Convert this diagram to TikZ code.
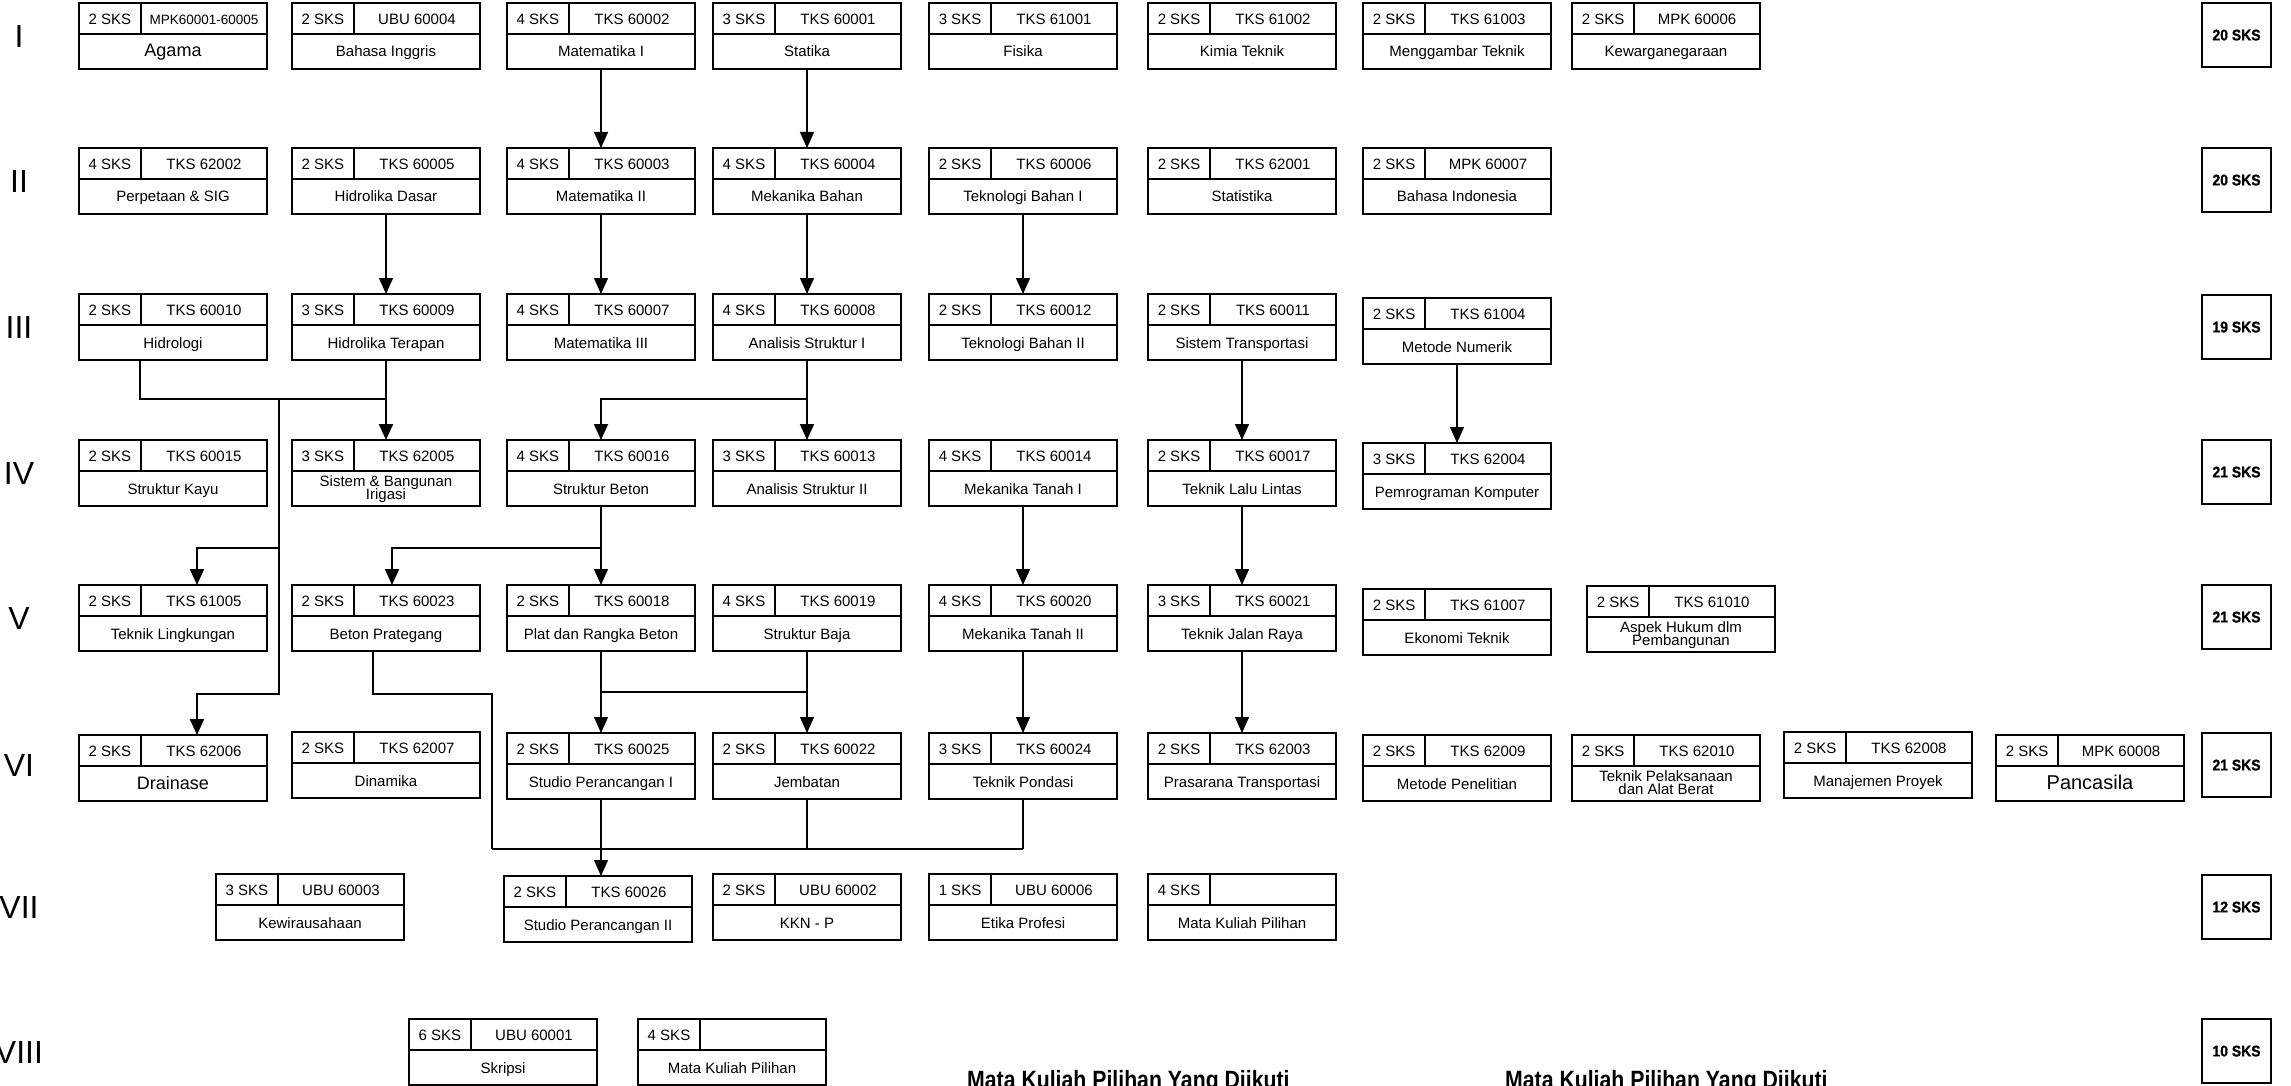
\documentclass[tikz,border=0pt]{standalone}
\usepackage{fontspec}
\setmainfont{Liberation Sans}
\newfontfamily\narrowb[FakeStretch=0.85]{Liberation Sans}
\newfontfamily\totf[FakeStretch=0.9,FakeBold=1]{Liberation Sans}
\usetikzlibrary{arrows.meta}
\tikzset{
  cbox/.style={draw, line width=1.4pt, rectangle, minimum width=188pt, minimum height=66pt, inner sep=0pt, outer sep=0pt, anchor=north west},
  bline/.style={line width=1.4pt},
  cell/.style={inner sep=0pt, anchor=base, font=\fontsize{15}{17}\selectfont},
  ttl/.style={inner sep=0pt, anchor=base, font=\fontsize{15}{17}\selectfont},
  tot/.style={draw, line width=1.4pt, minimum width=69pt, minimum height=64pt, inner sep=0pt, outer sep=0pt, anchor=north west, text depth=0pt, font=\totf\bfseries\fontsize{15.5}{17}\selectfont},
  rom/.style={inner sep=0pt, text depth=0pt, font=\fontsize{32}{34}\selectfont},
  thn/.style={line width=1.3pt},
  mid/.style={line width=1.8pt},
  thk/.style={line width=2.2pt},
  arr/.style={-{Triangle[length=16pt,width=14pt]}},
  btitle/.style={anchor=base west, inner sep=0pt, font=\narrowb\bfseries\fontsize{25}{27}\selectfont}
}
% #1 title options, #2 name, #3 x, #4 y (top), #5 sks, #6 code, #7 title
\newcommand\crs[7][]{%
  \node[cbox] (#2) at (#3,#4) {};
  \draw[bline] ([yshift=-31pt]#2.north west) -- ([yshift=-31pt]#2.north east);
  \draw[bline] ([xshift=62pt]#2.north west) -- ([xshift=62pt,yshift=-31pt]#2.north west);
  \node[cell] (#2s) at ([xshift=31pt,yshift=-21.5pt]#2.north west) {#5};
  \node[cell] (#2c) at ([xshift=125pt,yshift=-21.5pt]#2.north west) {#6};
  \node[ttl,#1] (#2t) at ([yshift=-54pt]#2.north) {#7};
}
\newcommand\ctwo[3]{%
  \node[ttl] (#1ta) at ([yshift=-46pt]#1.north) {#2};
  \node[ttl] (#1tb) at ([yshift=-59pt]#1.north) {#3};
}
\begin{document}
\begin{tikzpicture}[x=1pt,y=-1pt]
\fill[white] (0,0) rectangle (2291,1086);
\useasboundingbox (0,0) rectangle (2291,1086);

% semester numerals
\node[rom] (r1) at (19,36) {I};
\node[rom] (r2) at (19,181) {II};
\node[rom] (r3) at (19,327) {III};
\node[rom] (r4) at (19,473) {IV};
\node[rom] (r5) at (19,618) {V};
\node[rom] (r6) at (19,765) {VI};
\node[rom] (r7) at (19,907) {VII};
\node[rom] (r8) at (19,1052) {VIII};

% Row I
\crs[font=\fontsize{18}{20}\selectfont]{agama}{79}{3}{2 SKS}{\fontsize{13.5}{15}\selectfont MPK60001-60005}{Agama}
\crs{bing}{292}{3}{2 SKS}{UBU 60004}{Bahasa Inggris}
\crs{mat1}{507}{3}{4 SKS}{TKS 60002}{Matematika I}
\crs{statika}{713}{3}{3 SKS}{TKS 60001}{Statika}
\crs{fisika}{929}{3}{3 SKS}{TKS 61001}{Fisika}
\crs{kimia}{1148}{3}{2 SKS}{TKS 61002}{Kimia Teknik}
\crs{mgt}{1363}{3}{2 SKS}{TKS 61003}{Menggambar Teknik}
\crs{kwn}{1572}{3}{2 SKS}{MPK 60006}{Kewarganegaraan}

% Row II
\crs{perp}{79}{148}{4 SKS}{TKS 62002}{Perpetaan \& SIG}
\crs{hidd}{292}{148}{2 SKS}{TKS 60005}{Hidrolika Dasar}
\crs{mat2}{507}{148}{4 SKS}{TKS 60003}{Matematika II}
\crs{mekb}{713}{148}{4 SKS}{TKS 60004}{Mekanika Bahan}
\crs{tb1}{929}{148}{2 SKS}{TKS 60006}{Teknologi Bahan I}
\crs{stat}{1148}{148}{2 SKS}{TKS 62001}{Statistika}
\crs{bind}{1363}{148}{2 SKS}{MPK 60007}{Bahasa Indonesia}

% Row III
\crs{hidro}{79}{294}{2 SKS}{TKS 60010}{Hidrologi}
\crs{hidt}{292}{294}{3 SKS}{TKS 60009}{Hidrolika Terapan}
\crs{mat3}{507}{294}{4 SKS}{TKS 60007}{Matematika III}
\crs{as1}{713}{294}{4 SKS}{TKS 60008}{Analisis Struktur I}
\crs{tb2}{929}{294}{2 SKS}{TKS 60012}{Teknologi Bahan II}
\crs{sistr}{1148}{294}{2 SKS}{TKS 60011}{Sistem Transportasi}
\crs{metnum}{1363}{298}{2 SKS}{TKS 61004}{Metode Numerik}

% Row IV
\crs{kayu}{79}{440}{2 SKS}{TKS 60015}{Struktur Kayu}
\crs{irig}{292}{440}{3 SKS}{TKS 62005}{}
\ctwo{irig}{Sistem \& Bangunan}{Irigasi}
\crs{beton}{507}{440}{4 SKS}{TKS 60016}{Struktur Beton}
\crs{as2}{713}{440}{3 SKS}{TKS 60013}{Analisis Struktur II}
\crs{mt1}{929}{440}{4 SKS}{TKS 60014}{Mekanika Tanah I}
\crs{lalin}{1148}{440}{2 SKS}{TKS 60017}{Teknik Lalu Lintas}
\crs{pemkom}{1363}{443}{3 SKS}{TKS 62004}{Pemrograman Komputer}

% Row V
\crs{tling}{79}{585}{2 SKS}{TKS 61005}{Teknik Lingkungan}
\crs{prateg}{292}{585}{2 SKS}{TKS 60023}{Beton Prategang}
\crs{plat}{507}{585}{2 SKS}{TKS 60018}{Plat dan Rangka Beton}
\crs{baja}{713}{585}{4 SKS}{TKS 60019}{Struktur Baja}
\crs{mt2}{929}{585}{4 SKS}{TKS 60020}{Mekanika Tanah II}
\crs{jalan}{1148}{585}{3 SKS}{TKS 60021}{Teknik Jalan Raya}
\crs{ekotek}{1363}{589}{2 SKS}{TKS 61007}{Ekonomi Teknik}
\crs{hukum}{1587}{586}{2 SKS}{TKS 61010}{}
\ctwo{hukum}{Aspek Hukum dlm}{Pembangunan}

% Row VI
\crs[font=\fontsize{18}{20}\selectfont]{drain}{79}{735}{2 SKS}{TKS 62006}{Drainase}
\crs{dinam}{292}{732}{2 SKS}{TKS 62007}{Dinamika}
\crs{spi}{507}{733}{2 SKS}{TKS 60025}{Studio Perancangan I}
\crs{jemb}{713}{733}{2 SKS}{TKS 60022}{Jembatan}
\crs{pondasi}{929}{733}{3 SKS}{TKS 60024}{Teknik Pondasi}
\crs{prasar}{1148}{733}{2 SKS}{TKS 62003}{Prasarana Transportasi}
\crs{metpen}{1363}{735}{2 SKS}{TKS 62009}{Metode Penelitian}
\crs{pelak}{1572}{735}{2 SKS}{TKS 62010}{}
\ctwo{pelak}{Teknik Pelaksanaan}{dan Alat Berat}
\crs{manpro}{1784}{732}{2 SKS}{TKS 62008}{Manajemen Proyek}
\crs[font=\fontsize{20}{22}\selectfont]{panca}{1996}{735}{2 SKS}{MPK 60008}{Pancasila}

% Row VII
\crs{wira}{216}{874}{3 SKS}{UBU 60003}{Kewirausahaan}
\crs{spii}{504}{876}{2 SKS}{TKS 60026}{Studio Perancangan II}
\crs{kkn}{713}{874}{2 SKS}{UBU 60002}{KKN - P}
\crs{etika}{929}{874}{1 SKS}{UBU 60006}{Etika Profesi}
\crs{mkp7}{1148}{874}{4 SKS}{}{Mata Kuliah Pilihan}

% Row VIII
\crs{skripsi}{409}{1019}{6 SKS}{UBU 60001}{Skripsi}
\crs{mkp8}{638}{1019}{4 SKS}{}{Mata Kuliah Pilihan}

% Totals
\node[tot] (t1) at (2202,3) {20 SKS};
\node[tot] (t2) at (2202,148) {20 SKS};
\node[tot] (t3) at (2202,295) {19 SKS};
\node[tot] (t4) at (2202,440) {21 SKS};
\node[tot] (t5) at (2202,585) {21 SKS};
\node[tot] (t6) at (2202,733) {21 SKS};
\node[tot] (t7) at (2202,875) {12 SKS};
\node[tot] (t8) at (2202,1019) {10 SKS};

% Bottom titles
\node[btitle] (mk1) at (967,1088) {Mata Kuliah Pilihan Yang Diikuti};
\node[btitle] (mk2) at (1505,1088) {Mata Kuliah Pilihan Yang Diikuti};

% Simple vertical prerequisites
\draw[thn,arr] (mat1.south) -- (mat2.north);
\draw[thn,arr] (statika.south) -- (mekb.north);
\draw[thn,arr] (hidd.south) -- (hidt.north);
\draw[thn,arr] (mat2.south) -- (mat3.north);
\draw[thn,arr] (mekb.south) -- (as1.north);
\draw[thn,arr] (tb1.south) -- (tb2.north);
\draw[thn,arr] (sistr.south) -- (lalin.north);
\draw[thn,arr] (metnum.south) -- (pemkom.north);
\draw[thn,arr] (mt1.south) -- (mt2.north);
\draw[thn,arr] (lalin.south) -- (jalan.north);
\draw[thn,arr] (mt2.south) -- (pondasi.north);
\draw[thn,arr] (jalan.south) -- (prasar.north);

% Hidrologi / Hidrolika Terapan group
\coordinate (hJ) at (279,399);
\coordinate (hK) at (279,548);
\coordinate (hL) at (279,694);
\draw[thk] ([xshift=-33pt]hidro.south) |- (hidt.south |- hJ);
\draw[thk,arr] (hidt.south) -- (irig.north);
\draw[thk,arr] (hJ) -- (hL) -| ([xshift=24pt]drain.north);
\draw[thk,arr] (hK) -| ([xshift=24pt]tling.north);

% Analisis Struktur I group
\coordinate (aJ) at (807,399);
\draw[mid] (as1.south) -- (aJ);
\draw[mid,arr] (aJ) -| (beton.north);
\draw[mid,arr] (aJ) -- (as2.north);

% Struktur Beton group
\coordinate (bJ) at (601,548);
\draw[thn,arr] (beton.south) -- (plat.north);
\draw[mid,arr] (bJ) -| ([xshift=6pt]prateg.north);

% Plat / Baja group
\coordinate (pJ) at (601,692);
\coordinate (qJ) at (807,692);
\draw[thn,arr] (plat.south) -- (spi.north);
\draw[thn,arr] (baja.south) -- (jemb.north);
\draw[thk] (pJ) -- (qJ);

% Studio Perancangan II prerequisites
\coordinate (s1) at (492,694);
\coordinate (s2) at (492,849);
\draw[thn] ([xshift=-13pt]prateg.south) |- (s1) -- (s2);
\draw[mid] (s2) -- (s2 -| pondasi.south);
\draw[thn] (pondasi.south) -- (pondasi.south |- s2);
\draw[thn] (jemb.south) -- (jemb.south |- s2);
\draw[thn,arr] (spi.south) -- (spi.south |- spii.north);
\end{tikzpicture}
\end{document}
